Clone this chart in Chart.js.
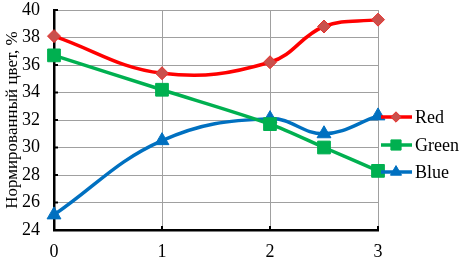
<!DOCTYPE html>
<html>
<head>
<meta charset="utf-8">
<script src="https://cdn.jsdelivr.net/npm/chart.js@4"></script>
<style>
  html, body { margin: 0; padding: 0; background: #fff; }
  #wrap { width: 460px; height: 263px; }
</style>
</head>
<body>
<div id="wrap"><canvas id="colorChart" width="460" height="263"></canvas></div>
<script>
const xValues = [0, 1, 2, 2.5, 3];
const redValues = [38.1, 35.4, 36.2, 38.8, 39.3];
const greenValues = [36.7, 34.2, 31.7, 30.0, 28.3];
const blueValues = [25.1, 30.5, 32.1, 31.0, 32.3];
const seriesNames = ['Red', 'Green', 'Blue'];
const yTitle = 'Нормированный цвет, %';

const family = '"Liberation Serif", "Times New Roman", serif';
const tickFont = { family: family, size: 18 };
const titleFont = { family: family, size: 17 };

const toPoints = vals => vals.map((v, i) => ({ x: xValues[i], y: v }));

// excel-like legend: line segment with marker in the middle
const sideLegend = {
    id: 'sideLegend',
    afterDraw(chart) {
        const ctx = chart.ctx;
        const rows = [117, 145, 172];
        chart.data.datasets.forEach((ds, i) => {
            const y = rows[i];
            ctx.save();
            ctx.strokeStyle = ds.borderColor;
            ctx.lineWidth = ds.borderWidth;
            ctx.beginPath();
            ctx.moveTo(381, y);
            ctx.lineTo(412, y);
            ctx.stroke();
            ctx.fillStyle = ds.pointBackgroundColor;
            ctx.strokeStyle = ds.pointBorderColor;
            ctx.lineWidth = 1;
            Chart.helpers.drawPoint(ctx, {
                pointStyle: ds.pointStyle,
                radius: ds.pointRadius * 0.8,
                rotation: 0,
                borderWidth: 1
            }, 396, y);
            ctx.restore();
            ctx.save();
            ctx.fillStyle = '#000';
            ctx.font = tickFont.size + 'px ' + family;
            ctx.textBaseline = 'middle';
            ctx.fillText(ds.label, 415, y + 1);
            ctx.restore();
        });
    },
    // small inward tick marks on both axes
    beforeDatasetsDraw(chart) {
        const ctx = chart.ctx;
        const xs = chart.scales.x, ys = chart.scales.y;
        ctx.save();
        ctx.strokeStyle = '#000';
        ctx.lineWidth = 2;
        ctx.beginPath();
        ys.ticks.forEach(t => {
            const p = ys.getPixelForValue(t.value);
            ctx.moveTo(ys.right, p);
            ctx.lineTo(ys.right + 4, p);
        });
        xs.ticks.forEach(t => {
            const p = xs.getPixelForValue(t.value);
            ctx.moveTo(p, xs.top);
            ctx.lineTo(p, xs.top - 4);
        });
        ctx.stroke();
        ctx.restore();
    }
};

new Chart(document.getElementById('colorChart'), {
    type: 'line',
    data: {
        datasets: [{
            label: seriesNames[0],
            data: toPoints(redValues),
            borderColor: '#FF0000',
            borderWidth: 3.5,
            pointStyle: 'rectRot',
            pointRadius: 6.5,
            pointBackgroundColor: '#C9504C',
            pointBorderColor: '#E8302C',
            pointBorderWidth: 1,
            tension: 0.4,
            clip: false
        }, {
            label: seriesNames[1],
            data: toPoints(greenValues),
            borderColor: '#00B050',
            borderWidth: 3.5,
            pointStyle: 'rect',
            pointRadius: 9,
            pointBackgroundColor: '#00B050',
            pointBorderColor: '#00B050',
            pointBorderWidth: 1,
            tension: 0.3,
            clip: false
        }, {
            label: seriesNames[2],
            data: toPoints(blueValues),
            borderColor: '#0070C0',
            borderWidth: 3.5,
            pointStyle: 'triangle',
            pointRadius: 8,
            pointBackgroundColor: '#0070C0',
            pointBorderColor: '#0070C0',
            pointBorderWidth: 1,
            tension: 0.4,
            clip: false
        }]
    },
    options: {
        responsive: false,
        animation: false,
        layout: { padding: { top: 6, right: 82, left: 0, bottom: 0 } },
        plugins: {
            legend: { display: false },
            tooltip: { enabled: false }
        },
        scales: {
            x: {
                type: 'linear',
                min: 0,
                max: 3,
                ticks: { stepSize: 1, color: '#000', font: tickFont, padding: 11 },
                grid: { color: '#a0a0a0', lineWidth: 1, drawTicks: false },
                border: { color: '#000', width: 2.5 },
                afterFit(scale) { scale.height = 33; }
            },
            y: {
                min: 24,
                max: 40,
                ticks: { stepSize: 2, color: '#000', font: tickFont, padding: 14 },
                grid: { color: '#a0a0a0', lineWidth: 1, drawTicks: false },
                border: { color: '#000', width: 2.5 },
                title: {
                    display: true,
                    text: yTitle,
                    color: '#000',
                    font: titleFont,
                    padding: { top: 2, bottom: 0 }
                },
                afterFit(scale) {
                    scale.width = 54;
                    scale.paddingTop = 0;
                    scale.paddingBottom = 0;
                }
            }
        }
    },
    plugins: [sideLegend]
});
</script>
</body>
</html>
